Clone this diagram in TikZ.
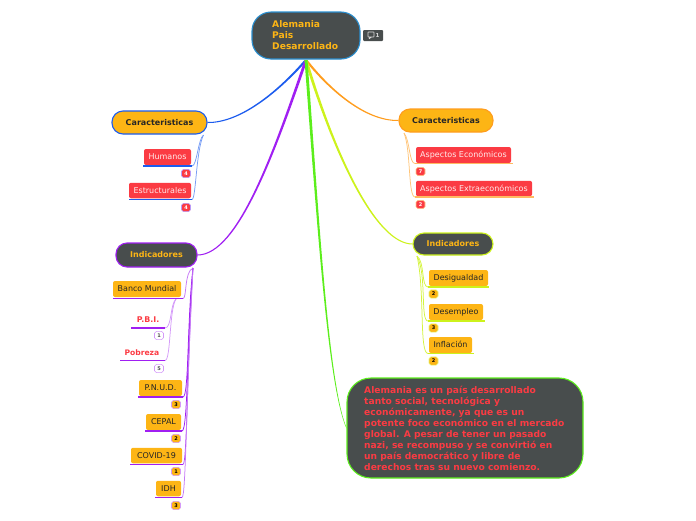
\documentclass[tikz,border=0pt]{standalone}
\usepackage{fontspec}
\setmainfont{DejaVu Sans}
\definecolor{cfill}{HTML}{FDB515}
\definecolor{cdark}{HTML}{484D4D}
\definecolor{cred}{HTML}{FB3B43}
\definecolor{cblue}{HTML}{1C5CEE}
\definecolor{cpurple}{HTML}{A01FF2}
\definecolor{corange}{HTML}{FF9D1E}
\definecolor{cyg}{HTML}{CDF21C}
\definecolor{cgreen}{HTML}{5CEE1C}
\definecolor{croot}{HTML}{2A8FD0}
\tikzset{
  box/.style={rectangle,rounded corners=2pt,inner sep=0pt,text height=7pt,text depth=2pt,font=\fontsize{8}{10}\selectfont},
  redbox/.style={box,fill=cred,text=white!92!red},
  ambox/.style={box,fill=cfill,text=black!85},
  topic/.style={rectangle,rounded corners=11pt,inner sep=0pt,line width=1.1pt,text height=7pt,text depth=2pt,font=\fontsize{8}{10}\selectfont\bfseries},
  badge/.style={rectangle,rounded corners=1.8pt,inner sep=0pt,minimum width=9pt,minimum height=8.2pt,line width=.6pt,font=\fontsize{5}{6}\selectfont\bfseries},
  sub/.style={line width=.75pt},
  ul/.style={line width=1.3pt},
  pnk/.style={text height=7pt,text depth=2pt,text=cred,inner sep=0pt}
}
% tapered branch: colour, first control, second control, end point, side sign
\newcommand{\taper}[5]{\fill[#1] ([xshift=-1.5pt]o) .. controls ([xshift=-1.1pt]#2) and ([xshift=-.6pt,yshift=#5*.6pt]#3) .. ([yshift=#5*.5pt]#4) -- ([yshift=-#5*.5pt]#4) .. controls ([xshift=.6pt,yshift=-#5*.6pt]#3) and ([xshift=1.1pt]#2) .. ([xshift=1.5pt]o) -- cycle;}
\begin{document}
\begin{tikzpicture}[x=1pt,y=-1pt]
\useasboundingbox (0,0) rectangle (696,520);
% connectors
\coordinate (o) at (306,60);
\coordinate (lcU) at (203.5,135);
\coordinate (rcU) at (404,133);
\coordinate (liU) at (193,268);
\coordinate (riU) at (417,256);
\coordinate (bmU) at (176,299);
\coordinate (hE) at (192,166);
\coordinate (eE) at (192,199.5);
\coordinate (bmE) at (183,298.5);
\coordinate (pbE) at (165,328);
\coordinate (poE) at (165,360.5);
\coordinate (pnE) at (183,397);
\coordinate (ceE) at (182,431);
\coordinate (coE) at (183,464.5);
\coordinate (idE) at (182,497.5);
\coordinate (aeE) at (415,163.5);
\coordinate (axE) at (415,197);
\coordinate (dgE) at (428,287);
\coordinate (dsE) at (428,321);
\coordinate (inE) at (428,353.5);
% main branches
\node[topic,draw=croot,fill=cdark,minimum width=108pt,minimum height=47pt,rounded corners=19pt] (root) at (306,35.5) {};
\node[topic,draw=cblue,fill=cfill,text=black!85,minimum width=95pt,minimum height=23pt] (lc) at (159.5,122.5) {Caracteristicas};
\node[topic,draw=corange,fill=cfill,text=black!85,minimum width=94pt,minimum height=23pt] (rc) at (446,120.5) {Caracteristicas};
\node[topic,draw=cpurple,fill=cdark,text=cfill,minimum width=81pt,minimum height=24pt] (li) at (156.5,255) {Indicadores};
\node[topic,draw=cyg,fill=cdark,text=cfill,minimum width=80pt,minimum height=22pt] (ri) at (453,244) {Indicadores};
\node[topic,draw=cgreen,fill=cdark,minimum width=236pt,minimum height=100pt,rounded corners=24pt] (big) at (465,428) {};
\coordinate (a1) at (278,92); \coordinate (a2) at (240,123);
\taper{cblue}{a1}{a2}{lc.east}{1}
\coordinate (b1) at (275,150); \coordinate (b2) at (238,255);
\taper{cpurple}{b1}{b2}{li.east}{1}
\coordinate (c1) at (330,90); \coordinate (c2) at (365,121);
\taper{corange}{c1}{c2}{rc.west}{-1}
\coordinate (d1) at (333,150); \coordinate (d2) at (375,244);
\taper{cyg}{d1}{d2}{ri.west}{-1}
\coordinate (e1) at (318,220); \coordinate (e2) at (328,385);
\taper{cgreen}{e1}{e2}{big.west}{-1}
% sub connectors
\draw[sub,cblue!60] (lcU) .. controls (198,139) and (197,166) .. (hE);
\draw[sub,cblue!60] (lcU) .. controls (196,150) and (196,199.5) .. (eE);
\draw[sub,corange!60] (rcU) .. controls (410,140) and (409,163.5) .. (aeE);
\draw[sub,corange!60] (rcU) .. controls (411,150) and (408,197) .. (axE);
\draw[sub,cyg!85] (riU) .. controls (425,262) and (421,287) .. (dgE);
\draw[sub,cyg!85] (riU) .. controls (427,275) and (420,321) .. (dsE);
\draw[sub,cyg!85] (riU) .. controls (425,290) and (419,353.5) .. (inE);
\draw[sub,cpurple!60] (liU) .. controls (184,272) and (187,298.5) .. (bmE);
\draw[sub,cpurple] (liU) .. controls (187,320) and (189,397) .. (pnE);
\draw[sub,cpurple] (liU) .. controls (187,340) and (188,431) .. (ceE);
\draw[sub,cpurple!80] (liU) .. controls (187,370) and (187,464.5) .. (coE);
\draw[sub,cpurple!60] (liU) .. controls (186,400) and (186,497.5) .. (idE);
\draw[sub,cpurple!45] (bmU) .. controls (170,304) and (172,328) .. (pbE);
\draw[sub,cpurple!45] (bmU) .. controls (169,310) and (171,360.5) .. (poE);
% root
\node[inner sep=0pt,anchor=north west,text=cfill,align=left,font=\fontsize{9.15}{11}\selectfont\bfseries] (rt) at (272,20.5) {Alemania\\Pais\\Desarrollado};
\node[rectangle,rounded corners=1pt,fill=cdark,minimum width=20pt,minimum height=11pt,inner sep=0pt] (cmt) at (373,35.5) {};
\draw[white!85!black,line width=.6pt,rounded corners=.5pt] (368,32) rectangle (374,37) (369.5,37) -- (369,39) -- (371.5,37);
\node[text=white!85!black,font=\fontsize{5.5}{6}\selectfont\bfseries,inner sep=0pt] (cmtn) at (377.5,35.7) {1};
% left leaves
\node[redbox,minimum width=47pt,minimum height=16pt] (hu) at (167.5,157) {Humanos};
\node[badge,fill=cred,draw=cblue!35!cpurple!50,text=white] (huB) at (186,173.5) {4};
\draw[ul,cblue] (143,166) -- (hE);
\node[redbox,minimum width=62pt,minimum height=15.5pt] (es) at (160,190.5) {Estructurales};
\node[badge,fill=cred,draw=cblue!35!cpurple!50,text=white] (esB) at (186,207.5) {4};
\draw[ul,cblue] (129,199.5) -- (eE);
% purple leaves
\node[ambox,minimum width=68pt,minimum height=16pt] (bm) at (147,289) {Banco Mundial};
\draw[ul,cpurple] (113,298.5) -- (bmE);
\node[pnk,anchor=east,font=\fontsize{7.9}{9}\selectfont\bfseries] (pb) at (159.5,320) {P.B.I.};
\draw[ul,cpurple] (131,328) -- (pbE);
\node[badge,fill=white,draw=cpurple!45,text=black!70] (pbB) at (159,335.5) {1};
\node[pnk,anchor=east,font=\fontsize{7.6}{9}\selectfont\bfseries] (po) at (159.5,352.5) {Pobreza};
\draw[ul,cpurple] (120,360.5) -- (poE);
\node[badge,fill=white,draw=cpurple!45,text=black!70] (poB) at (159,368.5) {5};
\node[ambox,minimum width=43pt,minimum height=16pt] (pn) at (160.5,388) {P.N.U.D.};
\draw[ul,cpurple] (138,397) -- (pnE);
\node[badge,fill=cfill,draw=cpurple!45,text=black] (pnB) at (176,404.5) {3};
\node[ambox,minimum width=35pt,minimum height=16pt] (ce) at (163.5,422) {CEPAL};
\draw[ul,cpurple] (145,431) -- (ceE);
\node[badge,fill=cfill,draw=cpurple!45,text=black] (ceB) at (176,438.5) {2};
\node[ambox,minimum width=51pt,minimum height=15.5pt] (co) at (156.5,455.5) {COVID-19};
\draw[ul,cpurple] (130,464.5) -- (coE);
\node[badge,fill=cfill,draw=cpurple!45,text=black] (coB) at (176,471.5) {1};
\node[ambox,minimum width=25pt,minimum height=15.5pt] (id) at (168.5,488.5) {IDH};
\draw[ul,cpurple] (155,497.5) -- (idE);
\node[badge,fill=cfill,draw=cpurple!45,text=black] (idB) at (176,505.5) {3};
% right leaves
\node[redbox,minimum width=95pt,minimum height=16pt] (ae) at (463.5,155) {Aspectos Económicos};
\draw[ul,corange!70] (aeE) -- (513,163.5);
\node[badge,fill=cred,draw=corange!50,text=white] (aeB) at (420.5,171.5) {7};
\node[redbox,minimum width=116pt,minimum height=15.5pt] (ax) at (474,188.5) {Aspectos Extraeconómicos};
\draw[ul,corange!70] (axE) -- (534,197);
\node[badge,fill=cred,draw=corange!50,text=white] (axB) at (420.5,204.5) {2};
\node[ambox,minimum width=59pt,minimum height=16pt] (dg) at (458.5,278) {Desigualdad};
\draw[ul,cyg] (dgE) -- (489,287);
\node[badge,fill=cfill,draw=cyg!60,text=black] (dgB) at (433.5,294) {2};
\node[ambox,minimum width=54pt,minimum height=16pt] (ds) at (456,312) {Desempleo};
\draw[ul,cyg] (dsE) -- (484.5,321);
\node[badge,fill=cfill,draw=cyg!60,text=black] (dsB) at (433.5,328) {3};
\node[ambox,minimum width=43pt,minimum height=16pt] (in) at (450.5,345) {Inflación};
\draw[ul,cyg] (inE) -- (474,353.5);
\node[badge,fill=cfill,draw=cyg!60,text=black] (inB) at (433.5,361) {2};
% big text
\node[inner sep=0pt,anchor=north west,text=cred,align=left,font=\fontsize{9.15}{11}\selectfont\bfseries] (bt) at (364,385.5) {Alemania es un país desarrollado\\tanto social, tecnológica y\\económicamente, ya que es un\\potente foco económico en el mercado\\global. A pesar de tener un pasado\\nazi, se recompuso y se convirtió en\\un país democrático y libre de\\derechos tras su nuevo comienzo.};
\end{tikzpicture}
\end{document}
